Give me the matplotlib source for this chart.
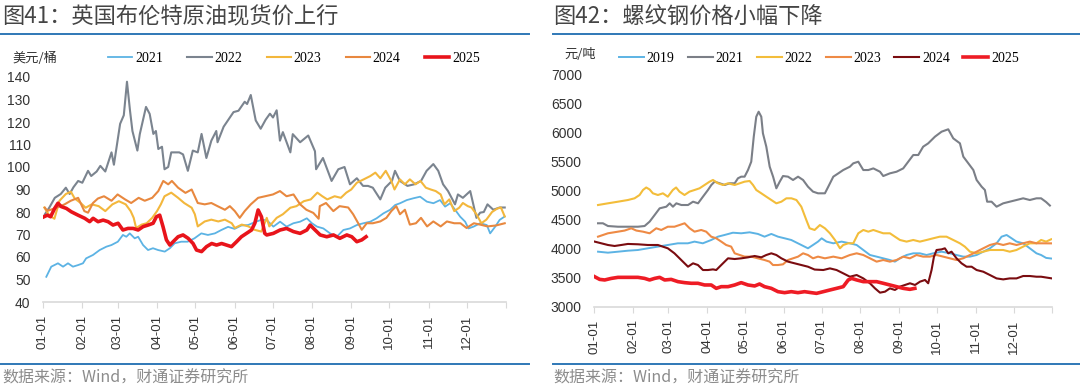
import matplotlib
matplotlib.use("Agg")
import matplotlib.pyplot as plt
from matplotlib.lines import Line2D

plt.rcParams['font.family'] = ['Noto Sans CJK SC', 'DejaVu Sans']

# ---- data: day of year (0 = 01-01) and value ----
month_ticks = [0, 31, 59, 90, 120, 151, 181, 212, 243, 273, 304, 334, 365]
month_labels = ["01-01", "02-01", "03-01", "04-01", "05-01", "06-01",
                "07-01", "08-01", "09-01", "10-01", "11-01", "12-01", ""]

# Brent spot, USD/bbl
brent_2021 = [[2.6, 51.2], [6.5, 55.7], [11.8, 57.2], [15.8, 55.7], [19.7, 57.2], [23.6, 55.7], [27.6, 56.4],
              [31.5, 57.2], [34, 59.4], [39.4, 60.9], [44.7, 63.1], [50, 64.6], [53.9, 65.3], [59, 66.8],
              [63, 69.8], [65.7, 69], [68.4, 70.5], [72.3, 68.3], [75, 69], [78.9, 65.3], [82.8, 63.1],
              [86.7, 63.9], [90.7, 63.1], [96, 62.4], [100, 63.9], [103.8, 66.1], [109, 66.8], [114, 66.8],
              [119.4, 68.3], [124.8, 70.5], [130, 69.8], [135.5, 70.5], [140.6, 72], [145.9, 73.4],
              [151, 72.5], [156.4, 74], [161.7, 74.2], [167, 75.5], [172, 76.5], [176.4, 76.4], [181.6, 73.5],
              [186.9, 75.7], [192, 73.5], [197.4, 75], [202.7, 75.7], [208, 77.2], [212, 75], [216, 73.5],
              [221, 72.7], [226.3, 70.5], [231.6, 69], [236.8, 72], [242, 72.7], [247.4, 74.2], [252.6, 75],
              [258, 75.7], [263, 77.2], [268.4, 79.4], [273.7, 81], [277.6, 83.1], [281.5, 83.9],
              [286.8, 85.3], [292, 86.1], [297.3, 86.8], [302.6, 84.6], [307.8, 83.9], [313, 85.3],
              [317, 82.4], [321, 83.9], [325, 80.9], [328.9, 77.9], [332.8, 75.7], [335.4, 72.7],
              [339.4, 73.5], [344.6, 75], [349.9, 74.2], [352.5, 70.5], [356.5, 73.5], [360, 76.5], [364, 78]]
brent_2022 = [[1.5, 79], [5, 82], [9.3, 86.3], [14, 88], [18, 90.8], [21, 88], [24, 91], [27.7, 93.8], [31, 93],
              [35.5, 98.3], [38, 96], [42.3, 98], [45.2, 100.5], [49.1, 98], [54, 106.5], [55.9, 101],
              [60.8, 119.2], [63.7, 123], [66.2, 137.9], [68.6, 125], [70.5, 116], [74.4, 107.3],
              [76.3, 114.6], [81.2, 126.7], [84.1, 123.6], [87, 114.7], [89, 116], [90.9, 108], [93.8, 109],
              [95.8, 99], [98.7, 100], [101.1, 106.5], [107.4, 106.5], [110.4, 105.6], [114.2, 98.3],
              [118.1, 107.3], [122, 106.5], [125, 114.7], [128.8, 104], [132.7, 111.7], [136.6, 116],
              [137.6, 111], [142.4, 117.9], [150.2, 124.4], [154.1, 125], [159, 129], [160.9, 128],
              [163.8, 132], [167.7, 120.7], [171.6, 117], [175.5, 121], [178.9, 123.7], [181.3, 122],
              [184.2, 125.2], [186.8, 111.7], [189.1, 115.5], [195, 106.5], [196.9, 114.6], [202.7, 111],
              [209.1, 114], [214.4, 107], [215.3, 99], [220.7, 104], [227.5, 93.8], [232.8, 99], [237.7, 100],
              [242, 92.3], [247.4, 95], [252.3, 91.6], [256.2, 91.6], [260, 90.8], [265.9, 85.6], [269.8, 90.8],
              [275.1, 93.8], [277.5, 98.3], [281.4, 93.8], [287.3, 91.6], [292.6, 92.3], [298, 93.8],
              [302.4, 98.3], [307.7, 101.3], [311.6, 98.3], [315.4, 92.3], [319.3, 89.3], [324.8, 83.4],
              [327.1, 87.8], [331, 86.3], [336.8, 89.3], [341.7, 77.4], [344.6, 79.7], [347.5, 80],
              [350.4, 83.4], [355, 81], [360, 82], [364, 82]]
brent_2023 = [[1, 82], [5, 78.5], [9, 77], [13, 85], [18, 88], [22, 89], [25, 86], [29.7, 84], [33.6, 81.9],
              [38.4, 83.4], [43.9, 82.6], [49.1, 80.4], [54.7, 83.4], [59.8, 84.8], [65.2, 83.4], [69.1, 80.4],
              [71.5, 77.4], [73.4, 72.9], [77.8, 74.4], [81.7, 75], [86.1, 77.4], [89.9, 80.4], [92.9, 83.4],
              [95.8, 87], [101.1, 88.6], [106.5, 86.3], [111.3, 84], [117.2, 81.9], [119.7, 79], [122, 73.6],
              [127.5, 75.8], [132.7, 76.6], [138.2, 75.8], [143.4, 76.6], [148.8, 75], [151.2, 72.9],
              [156.7, 74.4], [161.9, 73.6], [166.7, 72.1], [172.1, 71.3], [176.4, 77.4], [178.4, 73.6],
              [184.2, 77.4], [189.1, 79], [195, 81.9], [199.8, 82.6], [205.6, 84.8], [211.1, 85.6],
              [216.3, 88.6], [220.2, 87], [224.1, 85.6], [229.9, 87], [234.8, 86.3], [239.1, 88.6], [243, 90],
              [247.4, 93], [252.8, 94.5], [258.1, 96], [262, 97.5], [265.9, 95], [270.2, 98.3], [274.6, 93.8],
              [277.1, 90], [281.4, 94.5], [285.3, 92.3], [289.2, 94.5], [293.7, 92.3], [297.6, 93.8],
              [301.8, 90.8], [305.7, 90], [309.6, 89.3], [313.5, 87.8], [316.4, 83.4], [320.3, 85.6],
              [324.2, 80.4], [328.1, 81.9], [331, 84], [334.9, 82.6], [337.8, 82], [341.7, 79], [345.6, 75],
              [349.5, 76.6], [354, 80], [358, 81.5], [361, 82], [364, 78]]
brent_2024 = [[1.5, 81.9], [3.4, 80.5], [11.2, 82], [17, 83.4], [21.9, 85], [27.7, 86.3], [32.6, 80.4],
              [35.5, 79.7], [39.4, 84], [43.3, 86], [48.1, 87], [54, 85], [58.8, 87.8], [64.7, 85.6],
              [69.5, 84], [75.4, 86.3], [80.2, 85], [86.1, 86.3], [90.9, 89.3], [94.8, 93.8], [98.7, 92.3],
              [101.6, 93.8], [106.5, 90.8], [112.3, 88.5], [117.2, 90], [122, 84], [127.5, 83.4], [132.7, 84],
              [137.6, 82.6], [143.4, 81], [147.3, 82.6], [151.2, 80.4], [155.1, 77.4], [159, 80.4],
              [163.8, 83.4], [169.6, 86.3], [175.1, 87], [181.3, 87.8], [186.8, 89.3], [192, 87],
              [197.5, 87.8], [202.7, 83.4], [207.6, 81], [213.1, 79.6], [217.3, 77], [218.2, 82.6], [223.1, 84],
              [228.9, 80.4], [233.8, 82.6], [240.6, 82], [244.5, 79], [248.4, 75.1], [251.3, 72.1],
              [255.2, 75], [260, 75], [265.9, 75.8], [270.7, 77.4], [274.6, 80.4], [278.5, 82.6], [281.4, 79],
              [285.3, 81], [289.2, 74.4], [294, 75], [298, 77.4], [302.8, 73.6], [307.7, 75.8], [313.5, 73.6],
              [318.4, 75.8], [324.2, 75], [329.1, 75], [333.9, 72.9], [339.7, 75], [344.6, 74.4],
              [350.4, 73.6], [357, 74], [364, 75]]
brent_2025 = [[0.8, 77.9], [3.4, 78.6], [6, 77.9], [9.2, 81.6], [11.8, 83.9], [14.4, 82.4], [18.4, 81.6],
              [22.3, 80.1], [27.6, 78.6], [32.9, 77.2], [36.8, 75.7], [39.5, 77.2], [43.4, 75.7], [47.4, 76.4],
              [51.3, 75.7], [55.2, 74.2], [59.2, 75], [63, 72], [67, 72.7], [71, 72.7], [75, 72], [78.9, 73.5],
              [82.9, 74.2], [86.8, 75], [89.4, 77.9], [92, 78.6], [94.6, 73.5], [97.3, 67.6], [100, 65.3],
              [102.6, 66.8], [106.5, 69], [110.4, 69.8], [114.4, 68.3], [118.3, 66], [121, 63.1], [125, 62.4],
              [128.9, 64.6], [133, 66], [136.8, 65.3], [140.8, 66], [144.7, 65.3], [148.6, 64.6],
              [152.6, 66.8], [156.4, 69], [160.4, 70.5], [164.4, 72], [167, 75], [169.6, 80.9], [172.2, 77.9],
              [174.8, 70.5], [176.4, 69.8], [181.6, 70.5], [186.9, 72], [192, 72.7], [197.4, 71.3],
              [202.7, 70.5], [208, 72], [210.6, 74.2], [214.5, 72], [218.5, 69.8], [223.7, 69], [229, 69.8],
              [234, 68.3], [239.5, 69.8], [243.4, 69], [247.4, 66.8], [251.3, 67.6], [254.7, 69]]

# Rebar price, CNY/t
rebar_2019 = [[2.9, 3947], [10.8, 3930], [18.8, 3947], [26.7, 3964], [34.7, 3976], [42.6, 4005], [50.6, 4034],
              [58.5, 4062], [66.5, 4091], [74.5, 4091], [79.8, 4120], [86.4, 4091], [93.1, 4148], [98.4, 4205],
              [103.7, 4234], [110.4, 4273], [117, 4263], [123.7, 4280], [130.3, 4252], [135.6, 4205],
              [141, 4252], [146.3, 4205], [151.6, 4177], [156.9, 4148], [162.2, 4091], [167.5, 4034],
              [170.2, 4005], [174.2, 4062], [178.2, 4120], [181.1, 4177], [185, 4120], [190.4, 4091],
              [197, 4120], [203.6, 4091], [209, 4062], [214.3, 3976], [219.6, 3890], [224.9, 3862],
              [230.2, 3833], [235.5, 3804], [239.5, 3776], [243.5, 3833], [248.8, 3890], [254.1, 3919],
              [259.4, 3919], [264.7, 3890], [270, 3919], [276.7, 3947], [283.3, 3919], [288.6, 3890],
              [293.9, 3862], [299.3, 3862], [304.6, 3890], [309.9, 3947], [315.2, 4005], [320.5, 4091],
              [324.5, 4205], [328.5, 4234], [332.5, 4177], [336.4, 4120], [341.7, 4091], [347, 4005],
              [352.3, 3919], [356, 3890], [360, 3840], [364, 3830]]
rebar_2021 = [[2.9, 4435], [6.8, 4435], [10.8, 4388], [18.8, 4376], [26.7, 4376], [34.7, 4376], [40, 4388],
              [44, 4463], [48, 4577], [52, 4692], [57.3, 4720], [60, 4778], [62.6, 4720], [65.3, 4778],
              [69.3, 4749], [74.6, 4749], [78.6, 4806], [82.6, 4778], [86.5, 4892], [90.5, 5007], [93.2, 5093],
              [95.8, 5150], [99.8, 5122], [103.8, 5093], [107.8, 5122], [111.8, 5122], [114.4, 5208],
              [117, 5236], [119.7, 5236], [122.4, 5350], [125, 5493], [127, 5923], [129, 6266], [130.9, 6352],
              [133, 6266], [134.3, 5981], [137, 5751], [139.7, 5407], [142.4, 5236], [145, 5036],
              [147.7, 5150], [150.3, 5247], [154.3, 5236], [158.3, 5179], [162.3, 5236], [166.3, 5179],
              [170.2, 5064], [174.2, 4979], [178.2, 4950], [183.7, 4950], [186.4, 5064], [190.4, 5236],
              [194.4, 5293], [198.3, 5350], [203.6, 5407], [206.3, 5465], [210.3, 5493], [214.3, 5350],
              [218.3, 5350], [222.3, 5378], [227.6, 5321], [230.2, 5247], [235.5, 5293], [240.8, 5321],
              [246.1, 5378], [250.1, 5493], [254.1, 5608], [258.1, 5608], [262, 5751], [266, 5808],
              [271.4, 5923], [276.7, 6009], [282, 6050], [286, 5894], [291.3, 5809], [294, 5580], [298, 5465],
              [302, 5350], [304.6, 5179], [308.6, 5064], [311.2, 5007], [313, 4806], [316.5, 4806],
              [320.5, 4720], [325.8, 4778], [331, 4806], [336.4, 4835], [341.7, 4864], [347, 4835],
              [352.3, 4864], [356, 4864], [360, 4800], [363, 4740]]
rebar_2022 = [[2.9, 4749], [10.8, 4778], [18.8, 4806], [26.7, 4835], [32, 4864], [36, 4921], [38.7, 5007],
              [41.3, 5050], [44, 5016], [46.6, 4950], [50.6, 4921], [54.6, 4950], [58.5, 4892], [62.5, 5007],
              [65.1, 5050], [67.8, 4979], [71.8, 4921], [75.8, 4979], [79.8, 5007], [83.8, 5036], [87.8, 5093],
              [91.8, 5150], [94.5, 5179], [98.5, 5122], [102.5, 5093], [106.5, 5122], [111.8, 5093],
              [115.8, 5122], [119.7, 5150], [123.7, 5162], [126.4, 5093], [129, 5007], [133, 4950],
              [137, 4892], [141, 4835], [145, 4778], [149, 4806], [153, 4864], [157, 4864], [161, 4835],
              [164.9, 4720], [168.9, 4491], [171.5, 4349], [175.5, 4320], [179.7, 4405], [183.7, 4349],
              [187.7, 4263], [191.7, 4148], [195.7, 4005], [198.3, 4062], [202.3, 4091], [206.3, 4091],
              [210.3, 4263], [214.3, 4320], [218.3, 4291], [222.3, 4320], [226.3, 4291], [230.2, 4263],
              [235.5, 4263], [239.5, 4205], [243.5, 4148], [248.8, 4120], [254.1, 4148], [259.4, 4120],
              [264.7, 4148], [270, 4177], [275.3, 4205], [280.6, 4205], [286, 4148], [291.3, 4091],
              [295.2, 4034], [299.3, 3947], [304.6, 3919], [309.9, 3947], [315.2, 3976], [320.5, 3976],
              [325.8, 3976], [331, 3947], [336.4, 3976], [341.7, 4034], [347, 4091], [352.3, 4091],
              [356, 4148], [360, 4120], [364, 4160]]
rebar_2023 = [[2.9, 4205], [10.8, 4263], [18.8, 4291], [24.1, 4310], [29.4, 4349], [33.4, 4310], [38.7, 4291],
              [44, 4263], [49.3, 4349], [53.3, 4320], [58.5, 4376], [63.8, 4376], [67.8, 4405], [71.9, 4435],
              [75.9, 4349], [79.8, 4291], [85.1, 4320], [89.1, 4291], [93.1, 4205], [97.1, 4177],
              [101.1, 4120], [105, 4062], [109, 4034], [111.8, 3919], [115.8, 3890], [119.7, 3862],
              [125, 3862], [130.3, 3833], [135.6, 3804], [139.6, 3776], [142.3, 3718], [146.3, 3718],
              [150.3, 3730], [154.3, 3804], [158.3, 3833], [162.3, 3862], [166.3, 3919], [170.2, 3890],
              [174.2, 3833], [178.2, 3862], [183.7, 3833], [190.4, 3862], [197, 3833], [203.6, 3890],
              [209, 3919], [214.3, 3890], [219.6, 3833], [224.9, 3776], [230.2, 3804], [235.5, 3776],
              [240.8, 3804], [246.1, 3862], [251.4, 3833], [256.7, 3890], [262, 3862], [267.3, 3862],
              [272.7, 3890], [278, 3862], [283.3, 3833], [288.6, 3804], [293.9, 3833], [299.3, 3890],
              [304.6, 3947], [309.9, 4005], [315.2, 4062], [320.5, 4091], [325.8, 4062], [331, 4091],
              [336.4, 4062], [341.7, 4091], [347, 4120], [352.3, 4091], [356, 4091], [364, 4090]]
rebar_2024 = [[0.2, 4120], [5.5, 4091], [10.8, 4062], [16.1, 4045], [21.4, 4062], [26.7, 4080], [34.7, 4074],
              [42.6, 4062], [50.6, 4062], [58.5, 4005], [63.8, 3919], [69.2, 3804], [74.6, 3689], [78.6, 3747],
              [82.5, 3718], [86.5, 3632], [90.5, 3632], [94.5, 3643], [97.1, 3632], [101.1, 3718],
              [106.5, 3833], [111.8, 3821], [117.1, 3833], [122.4, 3850], [127.7, 3873], [133, 3850],
              [137, 3890], [141, 3919], [145, 3890], [149, 3833], [154.3, 3776], [159.6, 3747], [164.9, 3718],
              [170.2, 3689], [175.5, 3640], [182.4, 3632], [187.7, 3660], [193, 3632], [198.3, 3575],
              [203.6, 3517], [209, 3546], [214.3, 3488], [219.6, 3404], [223.6, 3317], [227.6, 3243],
              [231.6, 3260], [235.5, 3317], [239.5, 3289], [243.5, 3346], [247.5, 3375], [251.5, 3404],
              [255.5, 3375], [259.5, 3432], [263.5, 3461], [266, 3404], [268.7, 3632], [270.6, 3861],
              [272.7, 3976], [276.7, 3987], [279.3, 4005], [282, 3919], [284.6, 3947], [288.6, 3833],
              [292.6, 3747], [296.6, 3689], [300.6, 3689], [304.6, 3632], [309.9, 3603], [315.2, 3546],
              [320.5, 3488], [325.8, 3471], [331, 3488], [336.4, 3488], [341.7, 3529], [347, 3529],
              [352.3, 3517], [356, 3517], [364, 3490]]
rebar_2025 = [[0.2, 3517], [4.2, 3471], [8.2, 3461], [13.5, 3488], [18.8, 3506], [26.7, 3506], [34.7, 3506],
              [40, 3488], [44, 3461], [48, 3488], [52, 3506], [56, 3461], [61.2, 3471], [66.6, 3432],
              [71.9, 3415], [77.2, 3404], [82.5, 3404], [87.8, 3375], [93.1, 3375], [97.1, 3317], [101.1, 3346],
              [106.5, 3346], [111.8, 3375], [117, 3415], [122.4, 3375], [127.7, 3358], [131.6, 3392],
              [135.6, 3346], [141, 3317], [146.3, 3260], [151.6, 3243], [156.9, 3260], [162.2, 3243],
              [167.5, 3260], [172.9, 3243], [177, 3231], [182.4, 3260], [187.7, 3289], [193, 3317],
              [198.3, 3346], [202.3, 3461], [205, 3488], [209, 3461], [214.3, 3432], [219.6, 3432],
              [224.9, 3432], [230.2, 3404], [235.5, 3375], [240.8, 3346], [246.1, 3317], [251.4, 3300],
              [255.4, 3317]]

brent_years = ["2021", "2022", "2023", "2024", "2025"]
brent_series = [brent_2021, brent_2022, brent_2023, brent_2024, brent_2025]
brent_colors = ["#5cb3e4", "#7b848f", "#f3b73c", "#e8883f", "#e8141b"]
brent_widths = [1.3, 1.5, 1.5, 1.5, 2.6]

rebar_years = ["2019", "2021", "2022", "2023", "2024", "2025"]
rebar_series = [rebar_2019, rebar_2021, rebar_2022, rebar_2023, rebar_2024, rebar_2025]
rebar_colors = ["#5cb3e4", "#7b7f87", "#f3bd3a", "#ee8a45", "#7a0c10", "#ee1c25"]
rebar_widths = [1.4, 1.5, 1.5, 1.5, 1.5, 2.6]

W, H = 1080, 389
fig = plt.figure(figsize=(W / 100, H / 100), dpi=100)
fig.patch.set_facecolor("white")


def fx(px):
    return px / W


def fy(py):
    return 1 - py / H


def style_axis(ax, ylim, yticks):
    ax.set_xlim(0, 365)
    ax.set_ylim(*ylim)
    ax.set_yticks(yticks)
    ax.set_xticks(month_ticks)
    ax.set_xticklabels(month_labels, rotation=90)
    for s in ["top", "right", "left"]:
        ax.spines[s].set_visible(False)
    ax.spines["bottom"].set_color("#d9d9d9")
    ax.spines["bottom"].set_linewidth(1.2)
    ax.tick_params(axis="y", length=0, pad=9, labelsize=10, labelcolor="#333333")
    ax.tick_params(axis="x", length=4, color="#d9d9d9", pad=5, labelsize=9.5, labelcolor="#333333")
    for lab in ax.get_xticklabels() + ax.get_yticklabels():
        lab.set_family("Liberation Sans")
    ax.set_facecolor("white")


# left: Brent
ax1 = fig.add_axes([fx(43), fy(302), fx(506) - fx(43), fy(77) - fy(302)])
for name, pts, c, lw in zip(brent_years, brent_series, brent_colors, brent_widths):
    ax1.plot([p[0] for p in pts], [p[1] for p in pts], color=c, lw=lw, label=name, solid_joinstyle="round")
style_axis(ax1, (40, 140), range(40, 141, 10))
leg1 = ax1.legend(loc="center left", bbox_to_anchor=(fx(108), fy(58)), bbox_transform=fig.transFigure,
                  ncol=5, frameon=False, borderpad=0, borderaxespad=0, handlelength=1.75,
                  handletextpad=0.2, columnspacing=1.75, prop={"family": "Liberation Serif", "size": 10})

# right: rebar
ax2 = fig.add_axes([fx(594.4), fy(306.8), fx(1052.4) - fx(594.4), fy(74) - fy(306.8)])
for name, pts, c, lw in zip(rebar_years, rebar_series, rebar_colors, rebar_widths):
    ax2.plot([p[0] for p in pts], [p[1] for p in pts], color=c, lw=lw, label=name, solid_joinstyle="round")
style_axis(ax2, (3000, 7000), range(3000, 7001, 500))
leg2 = ax2.legend(loc="center left", bbox_to_anchor=(fx(619), fy(58)), bbox_transform=fig.transFigure,
                  ncol=6, frameon=False, borderpad=0, borderaxespad=0, handlelength=1.8,
                  handletextpad=0.2, columnspacing=0.95, prop={"family": "Liberation Serif", "size": 10})

# titles, units, source
title_kw = dict(fontsize=16, color="#454545", va="center", ha="left", fontweight="medium")
fig.text(fx(2), fy(17), "图41：英国布伦特原油现货价上行", **title_kw)
fig.text(fx(553), fy(17), "图42：螺纹钢价格小幅下降", **title_kw)
fig.text(fx(12), fy(58), "美元/桶", fontsize=9.5, color="#333333", va="center")
fig.text(fx(564), fy(55), "元/吨", fontsize=9.5, color="#333333", va="center")
src_kw = dict(fontsize=11.5, color="#8c8c8c", va="center", ha="left")
fig.text(fx(2), fy(378), "数据来源：Wind，财通证券研究所", **src_kw)
fig.text(fx(553), fy(378), "数据来源：Wind，财通证券研究所", **src_kw)

line_c = "#2f78b7"
for x0, x1 in [(0, 529), (553, 1080)]:
    for yy in (33.5, 363.5):
        fig.add_artist(Line2D([fx(x0), fx(x1)], [fy(yy), fy(yy)], color=line_c, lw=1.4,
                              transform=fig.transFigure))

fig.savefig("out.png", dpi=100)
